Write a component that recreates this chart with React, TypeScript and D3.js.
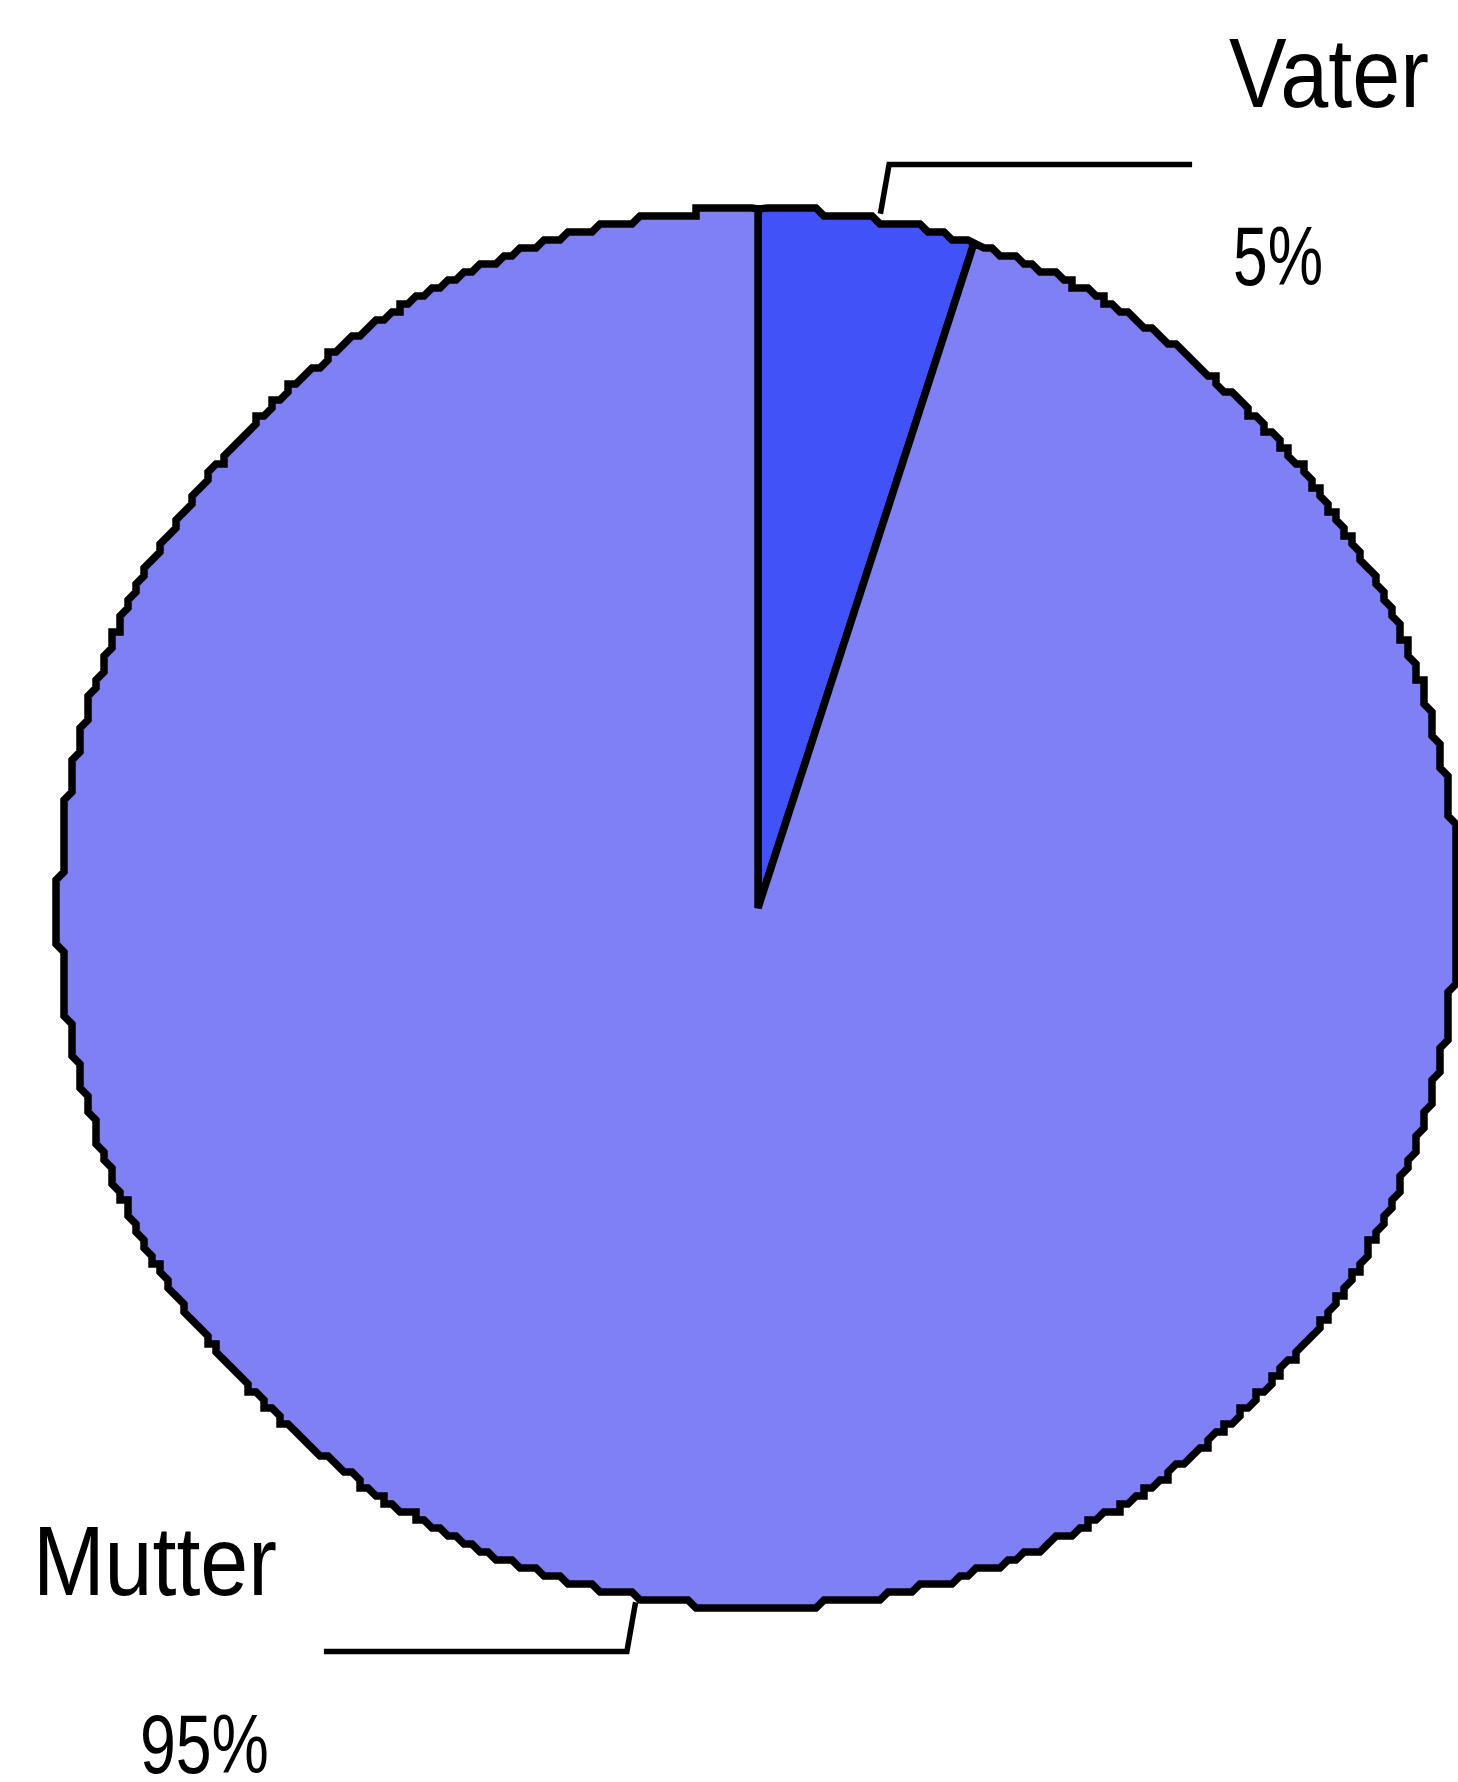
import React from "react";
import * as d3 from "d3";

// Anteil der Elternteile
const categories = ["Vater", "Mutter"];
const values = [5, 95];
const valueLabels = ["5%", "95%"];
const colors = ["#4152F6", "#8080F5"];

const W = 1458;
const H = 1782;
const CX = 758;
const CY = 908;
const R = 699;
const GRID = 8; // coarse raster of the drawn outline

const FONT = "'Liberation Sans Narrow', 'Liberation Sans', Arial, sans-serif";

function snap(v: number) {
  return Math.round(v / GRID) * GRID;
}

function slicePath(a0: number, a1: number) {
  const steps = Math.max(2, Math.ceil(((a1 - a0) * 180) / Math.PI / 0.6));
  const pts: [number, number][] = [[0, 0]];
  for (let i = 0; i <= steps; i++) {
    const a = a0 + ((a1 - a0) * i) / steps;
    const [x, y] = d3.pointRadial(a, R);
    const p: [number, number] =
      i === 0 || i === steps ? [x, y] : [snap(x + CX) - CX, snap(y + CY) - CY];
    const last = pts[pts.length - 1];
    if (last[0] !== p[0] || last[1] !== p[1]) pts.push(p);
  }
  return d3.line()(pts) + "Z";
}

// condensed widths of the label strings
const nameWidths: Record<string, number> = { Vater: 200, Mutter: 244 };
const valueWidths: Record<string, number> = { "5%": 90, "95%": 129 };

export default function App() {
  const data = categories.map((c, i) => ({ name: c, value: values[i], label: valueLabels[i], color: colors[i] }));
  const arcs = d3
    .pie<any>()
    .sort(null)
    .value((d) => d.value)(data);

  return (
    <svg width={W} height={H} style={{ position: "absolute", left: 0, top: 0, background: "#fff" }}>
      <g transform={`translate(${CX},${CY})`}>
        {arcs.map((a) => (
          <path
            key={a.data.name}
            d={slicePath(a.startAngle, a.endAngle)}
            fill={a.data.color}
            stroke="#000"
            strokeWidth={7.5}
            strokeLinejoin="miter"
          />
        ))}
        {arcs.map((a) => {
          const mid = (a.startAngle + a.endAngle) / 2 + Math.PI / 180;
          const [x1, y1] = d3.pointRadial(mid, R + 6);
          const [x2, y2] = d3.pointRadial(mid, R + 56);
          const right = x2 > 0;
          const x3 = x2 + (right ? 303 : -303);
          const anchor = right ? "start" : "end";
          const tx = x3 + (right ? 37 : -47);
          return (
            <g key={a.data.name + "-label"}>
              <polyline
                points={`${x1},${y1} ${x2},${y2} ${x3},${y2}`}
                fill="none"
                stroke="#000"
                strokeWidth={5.5}
              />
              <text
                x={tx}
                y={y2 - 57}
                textAnchor={anchor}
                fontFamily={FONT}
                fontSize={98}
                textLength={nameWidths[a.data.name]}
                lengthAdjust="spacingAndGlyphs"
                fill="#000"
              >
                {a.data.name}
              </text>
              <text
                x={tx + (right ? 4 : -8)}
                y={y2 + 121}
                textAnchor={anchor}
                fontFamily={FONT}
                fontSize={84}
                textLength={valueWidths[a.data.label]}
                lengthAdjust="spacingAndGlyphs"
                fill="#000"
              >
                {a.data.label}
              </text>
            </g>
          );
        })}
      </g>
    </svg>
  );
}
